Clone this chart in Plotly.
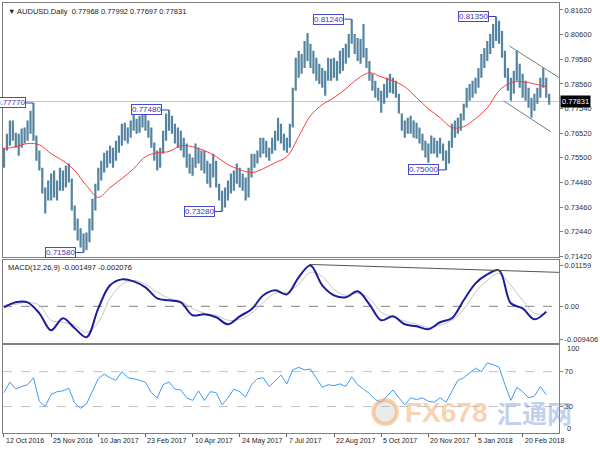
import plotly.graph_objects as go

# ---------------- data ----------------
date_labels = ["12 Oct 2016", "25 Nov 2016", "10 Jan 2017", "23 Feb 2017", "10 Apr 2017",
               "24 May 2017", "7 Jul 2017", "22 Aug 2017", "5 Oct 2017", "20 Nov 2017",
               "5 Jan 2018", "20 Feb 2018"]
date_label_bar = [0, 32, 64, 96, 128, 160, 192, 224, 256, 288, 320, 352]

# one entry per two daily bars
bar_high = [
    0.7592, 0.7650, 0.7704, 0.7704, 0.7654, 0.7650, 0.7671, 0.7675, 0.7704, 0.7745,
    0.7777, 0.7642, 0.7580, 0.7509, 0.7427, 0.7456, 0.7485, 0.7497, 0.7456, 0.7509,
    0.7497, 0.7518, 0.7526, 0.7464, 0.7353, 0.7299, 0.7258, 0.7237, 0.7241, 0.7299,
    0.7381, 0.7443, 0.7509, 0.7538, 0.7571, 0.7580, 0.7600, 0.7592, 0.7621, 0.7642,
    0.7691, 0.7695, 0.7675, 0.7704, 0.7733, 0.7712, 0.7724, 0.7745, 0.7737, 0.7704,
    0.7675, 0.7613, 0.7580, 0.7592, 0.7662, 0.7733, 0.7748, 0.7724, 0.7691, 0.7675,
    0.7662, 0.7633, 0.7609, 0.7567, 0.7551, 0.7609, 0.7592, 0.7580, 0.7580, 0.7538,
    0.7526, 0.7567, 0.7538, 0.7443, 0.7414, 0.7427, 0.7456, 0.7485, 0.7497, 0.7526,
    0.7509, 0.7485, 0.7468, 0.7509, 0.7567, 0.7567, 0.7580, 0.7633, 0.7633, 0.7621,
    0.7592, 0.7633, 0.7662, 0.7716, 0.7691, 0.7650, 0.7633, 0.7691, 0.7840, 0.7964,
    0.7993, 0.7980, 0.8034, 0.8067, 0.8022, 0.7993, 0.7964, 0.7939, 0.7922, 0.7910,
    0.7964, 0.7960, 0.7964, 0.7951, 0.7993, 0.8005, 0.8022, 0.8063, 0.8124, 0.8063,
    0.8046, 0.8042, 0.8104, 0.8005, 0.7951, 0.7898, 0.7869, 0.7840, 0.7828, 0.7856,
    0.7881, 0.7898, 0.7881, 0.7869, 0.7815, 0.7733, 0.7704, 0.7716, 0.7724, 0.7704,
    0.7695, 0.7675, 0.7650, 0.7621, 0.7609, 0.7642, 0.7633, 0.7621, 0.7633, 0.7609,
    0.7580, 0.7621, 0.7691, 0.7704, 0.7716, 0.7733, 0.7774, 0.7840, 0.7856, 0.7869,
    0.7881, 0.7922, 0.7980, 0.8005, 0.8034, 0.8063, 0.8104, 0.8135, 0.8117, 0.8075,
    0.7993, 0.7922, 0.7881, 0.7910, 0.7993, 0.7939, 0.7898, 0.7869, 0.7840, 0.7799,
    0.7815, 0.7840, 0.7881, 0.7922, 0.7881, 0.7815]
bar_low = [
    0.7509, 0.7580, 0.7600, 0.7621, 0.7592, 0.7559, 0.7592, 0.7609, 0.7621, 0.7650,
    0.7621, 0.7538, 0.7497, 0.7402, 0.7320, 0.7373, 0.7373, 0.7386, 0.7373, 0.7414,
    0.7414, 0.7427, 0.7448, 0.7332, 0.7249, 0.7208, 0.7179, 0.7158, 0.7167, 0.7200,
    0.7249, 0.7332, 0.7414, 0.7456, 0.7489, 0.7509, 0.7526, 0.7509, 0.7538, 0.7571,
    0.7600, 0.7621, 0.7609, 0.7633, 0.7662, 0.7650, 0.7654, 0.7675, 0.7662, 0.7633,
    0.7592, 0.7538, 0.7497, 0.7509, 0.7567, 0.7621, 0.7662, 0.7650, 0.7609, 0.7592,
    0.7580, 0.7551, 0.7509, 0.7485, 0.7476, 0.7509, 0.7526, 0.7497, 0.7485, 0.7443,
    0.7427, 0.7468, 0.7427, 0.7373, 0.7328, 0.7344, 0.7373, 0.7402, 0.7414, 0.7443,
    0.7427, 0.7414, 0.7373, 0.7386, 0.7468, 0.7509, 0.7526, 0.7551, 0.7567, 0.7551,
    0.7538, 0.7567, 0.7580, 0.7621, 0.7609, 0.7580, 0.7571, 0.7592, 0.7675, 0.7828,
    0.7881, 0.7898, 0.7922, 0.7951, 0.7922, 0.7898, 0.7869, 0.7856, 0.7840, 0.7807,
    0.7869, 0.7869, 0.7881, 0.7869, 0.7898, 0.7910, 0.7939, 0.7964, 0.8022, 0.7980,
    0.7951, 0.7939, 0.7964, 0.7922, 0.7869, 0.7828, 0.7799, 0.7786, 0.7737, 0.7774,
    0.7799, 0.7819, 0.7815, 0.7799, 0.7733, 0.7662, 0.7633, 0.7650, 0.7650, 0.7633,
    0.7629, 0.7609, 0.7580, 0.7551, 0.7530, 0.7567, 0.7567, 0.7551, 0.7567, 0.7538,
    0.7500, 0.7526, 0.7592, 0.7633, 0.7650, 0.7662, 0.7704, 0.7757, 0.7786, 0.7799,
    0.7815, 0.7840, 0.7881, 0.7922, 0.7951, 0.7980, 0.8005, 0.8034, 0.8022, 0.7964,
    0.7881, 0.7828, 0.7786, 0.7815, 0.7869, 0.7840, 0.7799, 0.7786, 0.7757, 0.7716,
    0.7745, 0.7774, 0.7799, 0.7840, 0.7799, 0.7770]

# moving average, one value every 8 daily bars
ma_values = [0.7588, 0.7596, 0.7609, 0.7604, 0.7567, 0.7538, 0.7497, 0.7435, 0.7386, 0.7427,
             0.7464, 0.7505, 0.7555, 0.7571, 0.7576, 0.7600, 0.7596, 0.7580, 0.7555, 0.7522,
             0.7501, 0.7489, 0.7505, 0.7530, 0.7555, 0.7638, 0.7724, 0.7770, 0.7799, 0.7836,
             0.7877, 0.7902, 0.7885, 0.7869, 0.7844, 0.7799, 0.7753, 0.7716, 0.7675, 0.7679,
             0.7712, 0.7757, 0.7828, 0.7861, 0.7865, 0.7856, 0.7844]

# MACD main and signal, one value every 8 daily bars
macd_values = [-0.00028, 0.00113, 0.00113, -0.00198, -0.00679, -0.00339, -0.00622, -0.00876,
               -0.00057, 0.00594, 0.00763, 0.00707, 0.00537, 0.00226, 0.00170, 0.00113,
               -0.00254, -0.00226, -0.00311, -0.00509, -0.00283, -0.00085, 0.00311, 0.00452,
               0.00339, 0.00820, 0.01159, 0.00594, 0.00311, 0.00254, 0.00424, 0.00057,
               -0.00396, -0.00283, -0.00509, -0.00565, -0.00650, -0.00452, -0.00339, 0.00170,
               0.00650, 0.00905, 0.01018, 0.00085, -0.00057, -0.00368, -0.00150]
signal_values = [0.00028, 0.00057, 0.00113, 0.00028, -0.00396, -0.00452, -0.00537, -0.00735,
                 -0.00452, 0.00226, 0.00622, 0.00735, 0.00622, 0.00396, 0.00226, 0.00141,
                 -0.00057, -0.00198, -0.00254, -0.00396, -0.00368, -0.00198, 0.00113, 0.00368,
                 0.00396, 0.00622, 0.00961, 0.00848, 0.00481, 0.00311, 0.00368, 0.00226,
                 -0.00170, -0.00311, -0.00424, -0.00509, -0.00594, -0.00537, -0.00396, -0.00085,
                 0.00396, 0.00735, 0.00933, 0.00594, 0.00170, -0.00198, -0.00208]

# RSI(14), one value every 4 daily bars
rsi_values = [46, 58, 50, 53, 55, 63, 36, 30, 44, 47,
              48, 51, 34, 28, 33, 47, 62, 67, 63, 60,
              70, 63, 62, 60, 58, 46, 40, 55, 58, 50,
              49, 40, 37, 48, 37, 47, 46, 32, 40, 50,
              47, 41, 55, 62, 63, 53, 60, 66, 56, 72,
              75, 72, 73, 63, 52, 55, 54, 56, 53, 64,
              55, 50, 45, 38, 35, 42, 49, 40, 32, 40,
              38, 40, 36, 35, 40, 35, 48, 60, 63, 69,
              74, 70, 80, 78, 75, 55, 37, 52, 47, 40,
              42, 53, 43.4]

price_ticks = [0.8162, 0.8060, 0.7958, 0.7856, 0.7754, 0.7652, 0.7550, 0.7448, 0.7346, 0.7244, 0.7142]
macd_ticks = [0.01159, 0.0, -0.009406]
macd_tick_text = ["0.01159", "0.00", "-0.009406"]
rsi_levels = [70, 30]

extreme_bar = [20, 54, 112, 148, 236, 300, 334]
extreme_price = [0.7777, 0.7158, 0.7748, 0.7328, 0.8124, 0.7500, 0.8135]
last_price = 0.77831

channel_upper_bar = [343, 377]
channel_upper = [0.8013, 0.7881]
channel_lower_bar = [339, 371]
channel_lower = [0.7786, 0.7658]
macd_trend_bar = [207, 377]
macd_trend = [0.01187, 0.00961]

title_text = "AUDUSD.Daily  0.77968 0.77992 0.77697 0.77831"
macd_text = "MACD(12,26,9) -0.001497 -0.002076"
rsi_text = "RSI(14) 43.3797"

# ---------------- figure ----------------
FONT = "Liberation Sans, Arial, sans-serif"
bar_x = [2 * i for i in range(len(bar_high))]
ma_x = [8 * i for i in range(len(ma_values))]
macd_x = [8 * i for i in range(len(macd_values))]
rsi_x = [4 * i for i in range(len(rsi_values))]

seg_x, seg_y = [], []
for x, h, l in zip(bar_x, bar_high, bar_low):
    seg_x += [x, x, None]
    seg_y += [l, h, None]

fig = go.Figure()
fig.add_trace(go.Scatter(x=seg_x, y=seg_y, mode="lines", line=dict(color="#5584a0", width=2.2),
                         xaxis="x", yaxis="y", hoverinfo="skip"))
fig.add_trace(go.Scatter(x=ma_x, y=ma_values, mode="lines", line=dict(color="#ff3b3b", width=1, shape="spline"),
                         xaxis="x", yaxis="y"))
fig.add_trace(go.Scatter(x=channel_upper_bar, y=channel_upper, mode="lines", line=dict(color="#6f8080", width=1),
                         xaxis="x", yaxis="y"))
fig.add_trace(go.Scatter(x=channel_lower_bar, y=channel_lower, mode="lines", line=dict(color="#6f8080", width=1),
                         xaxis="x", yaxis="y"))
fig.add_trace(go.Scatter(x=macd_x, y=signal_values, mode="lines", line=dict(color="#c4c4c4", width=1, shape="spline"),
                         xaxis="x2", yaxis="y2"))
fig.add_trace(go.Scatter(x=macd_x, y=macd_values, mode="lines", line=dict(color="#1c1c9c", width=2, shape="spline"),
                         xaxis="x2", yaxis="y2"))
fig.add_trace(go.Scatter(x=macd_trend_bar, y=macd_trend, mode="lines", line=dict(color="#555555", width=1),
                         xaxis="x2", yaxis="y2"))
fig.add_trace(go.Scatter(x=rsi_x, y=rsi_values, mode="lines", line=dict(color="#3d9bff", width=1),
                         xaxis="x3", yaxis="y3"))

xcommon = dict(range=[-0.67, 376.67], showgrid=False, zeroline=False, showticklabels=False,
               showline=True, mirror=True, linecolor="#808080", linewidth=1)
ycommon = dict(side="right", showgrid=False, zeroline=False, showline=True, mirror=True,
               linecolor="#808080", linewidth=1, ticks="outside", ticklen=3, tickcolor="#808080",
               tickfont=dict(family=FONT, size=7.5, color="#303030"))

shapes = []
shapes.append(dict(type="line", xref="x", yref="y", x0=-0.67, x1=376.67, y0=last_price, y1=last_price,
                   line=dict(color="#c8c8c8", width=1), layer="below"))
shapes.append(dict(type="line", xref="x2", yref="y2", x0=-0.67, x1=376.67, y0=0, y1=0,
                   line=dict(color="#808080", width=1, dash="dash"), layer="below"))
for lv in rsi_levels:
    shapes.append(dict(type="line", xref="x3", yref="y3", x0=-0.67, x1=376.67, y0=lv, y1=lv,
                       line=dict(color="#c0c0c0", width=1, dash="dash"), layer="below"))

annotations = []
for b, p in zip(extreme_bar, extreme_price):
    shapes.append(dict(type="line", xref="x", yref="y", x0=b - 5, x1=b, y0=p, y1=p,
                       line=dict(color="#3c3cb4", width=1)))
    annotations.append(dict(xref="x", yref="y", x=b - 5, y=p, xanchor="right", yanchor="middle",
                            text=f"{p:.5f}", showarrow=False, bgcolor="white", bordercolor="#4a4ac8",
                            borderwidth=1, borderpad=0, font=dict(family=FONT, size=8, color="#3a3ab0")))

annotations.append(dict(xref="paper", yref="y", x=1, y=last_price, xanchor="left", yanchor="middle",
                        xshift=1, text=f"{last_price:.5f}", showarrow=False, bgcolor="black",
                        borderpad=1, font=dict(family=FONT, size=7.5, color="white")))
annotations.append(dict(xref="paper", yref="paper", x=0, y=1, xanchor="left", yanchor="top",
                        xshift=3, yshift=-2, text="▼ " + title_text, showarrow=False,
                        font=dict(family=FONT, size=7.5, color="#202020")))
annotations.append(dict(xref="paper", yref="y2", x=0, y=0.0128, xanchor="left", yanchor="top",
                        xshift=3, text=macd_text, showarrow=False,
                        font=dict(family=FONT, size=7.5, color="#202020")))
annotations.append(dict(xref="paper", yref="y3", x=0, y=104, xanchor="left", yanchor="top",
                        xshift=3, text=rsi_text, showarrow=False,
                        font=dict(family=FONT, size=7.5, color="#202020")))
for lab, val, sh in [("100", 100, -3), ("0", 0, 4)]:
    annotations.append(dict(xref="paper", yref="y3", x=1, y=val, xanchor="left", yanchor="middle",
                            xshift=6, yshift=sh, text=lab, showarrow=False,
                            font=dict(family=FONT, size=7.5, color="#303030")))
for lab, b in zip(date_labels, date_label_bar):
    annotations.append(dict(xref="x3", yref="paper", x=b, y=0, xanchor="left", yanchor="top",
                            xshift=0, yshift=-2, text=lab, showarrow=False,
                            font=dict(family=FONT, size=7, color="#202020")))

# watermark
annotations.append(dict(xref="paper", yref="paper", x=(453 - 2) / 566, y=(433 - 412) / 431,
                        xanchor="center", yanchor="middle",
                        text="<b>FX678</b>", showarrow=False,
                        font=dict(family=FONT, size=28, color="rgba(246,165,100,0.50)")))
annotations.append(dict(xref="paper", yref="paper", x=(543 - 2) / 566, y=(433 - 412) / 431,
                        xanchor="center", yanchor="middle",
                        text="<b>汇通网</b>", showarrow=False,
                        font=dict(family="Noto Sans CJK SC", size=25, color="rgba(110,150,215,0.45)")))
shapes.append(dict(type="circle", xref="paper", yref="paper",
                   x0=(379 - 2) / 566, x1=(403 - 2) / 566, y0=(433 - 424) / 431, y1=(433 - 400) / 431,
                   line=dict(color="rgba(245,160,90,0.50)", width=4), fillcolor="rgba(190,190,190,0.30)"))

fig.update_layout(
    width=600, height=450, margin=dict(l=2, r=32, t=2, b=17),
    paper_bgcolor="white", plot_bgcolor="white", showlegend=False,
    xaxis=dict(**xcommon, anchor="y"),
    xaxis2=dict(**xcommon, anchor="y2", matches="x"),
    xaxis3=dict(**xcommon, anchor="y3", matches="x", ticks="outside", tickvals=date_label_bar,
                ticklen=3, tickcolor="#606060"),
    yaxis=dict(**ycommon, domain=[0.4084, 1], range=[0.71378, 0.81909], anchor="x",
               tickvals=price_ticks, ticktext=[f"{v:.5f}" for v in price_ticks]),
    yaxis2=dict(**ycommon, domain=[0.2088, 0.4014], range=[-0.010461, 0.013005], anchor="x2",
                tickvals=macd_ticks, ticktext=macd_tick_text),
    yaxis3=dict(**ycommon, domain=[0, 0.2042], range=[-0.3, 100.3], anchor="x3",
                tickvals=rsi_levels, ticktext=[str(v) for v in rsi_levels]),
    shapes=shapes, annotations=annotations,
)

fig.write_html("out.html", config={"displayModeBar": False},
               post_script="document.body.style.margin='0px';")
